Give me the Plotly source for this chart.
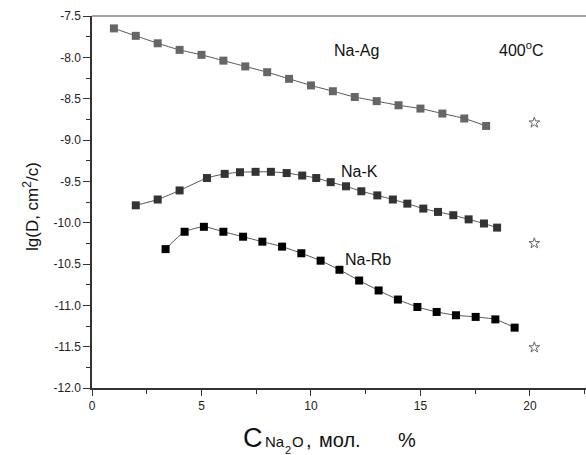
import plotly.graph_objects as go

# Na-Ag
ag_x = [1, 2, 3, 4, 5, 6, 7, 8, 9, 10, 11, 12, 13, 14, 15, 16, 17, 18]
ag_y = [-7.65, -7.74, -7.83, -7.91, -7.97, -8.04, -8.11, -8.18, -8.26, -8.34,
        -8.41, -8.48, -8.53, -8.58, -8.62, -8.68, -8.74, -8.83]
# Na-K
k_x = [2.0, 3.0, 4.0, 5.25, 6.06, 6.76, 7.47, 8.17, 8.89, 9.6, 10.24, 10.9,
       11.6, 12.3, 13.03, 13.74, 14.4, 15.13, 15.8, 16.5, 17.2, 17.9, 18.5]
k_y = [-9.79, -9.72, -9.61, -9.46, -9.41, -9.39, -9.385, -9.385, -9.40, -9.43,
       -9.46, -9.51, -9.56, -9.62, -9.67, -9.72, -9.77, -9.83, -9.87, -9.91,
       -9.96, -10.01, -10.06]
# Na-Rb
rb_x = [3.36, 4.23, 5.11, 6.0, 6.9, 7.78, 8.68, 9.56, 10.44, 11.3, 12.2, 13.09,
        13.97, 14.86, 15.74, 16.62, 17.52, 18.42, 19.3]
rb_y = [-10.32, -10.11, -10.05, -10.11, -10.17, -10.23, -10.29, -10.37, -10.46,
        -10.57, -10.70, -10.82, -10.93, -11.02, -11.08, -11.12, -11.14, -11.17, -11.27]
# stars (calculated values)
star_x = [20.2, 20.2, 20.2]
star_y = [-8.79, -10.25, -11.51]

labels = ["Na-Ag", "Na-K", "Na-Rb"]
label_x = [12.1, 12.2, 12.6]
label_y = [-7.92, -9.38, -10.45]

FONT = "Liberation Sans, Arial"

fig = go.Figure()
for xs, ys, col in [(ag_x, ag_y, "#666666"), (k_x, k_y, "#333333"), (rb_x, rb_y, "#000000")]:
    fig.add_trace(go.Scatter(
        x=xs, y=ys, mode="lines+markers",
        line=dict(color="#555555", width=1, shape="spline", smoothing=0.6),
        marker=dict(symbol="square", size=8, color=col, line=dict(width=0)),
        showlegend=False))
fig.add_trace(go.Scatter(
    x=star_x, y=star_y, mode="markers",
    marker=dict(symbol="star-open", size=8, color="#666666", line=dict(width=1)),
    showlegend=False))

for t, x, y in zip(labels, label_x, label_y):
    fig.add_annotation(x=x, y=y, text=t, showarrow=False,
                       font=dict(size=16, color="#111111", family=FONT))
fig.add_annotation(x=19.6, y=-7.9, text="400<sup>o</sup>C", showarrow=False,
                   font=dict(size=16, color="#111111", family=FONT))

# y-axis title
fig.add_annotation(x=0, xref="paper", xshift=-61, xanchor="center",
                   y=0.5, yref="paper", yshift=-5, yanchor="middle", textangle=-90,
                   text="lg(D, cm<sup>2</sup>/c)", showarrow=False,
                   font=dict(size=17, color="#111111", family=FONT))

# x-axis title pieces: (text, size, left offset from plot left px, center offset below plot bottom px)
xt_parts = [("C", 27, 150, 49.5), ("Na", 15, 172, 53.7), ("2", 11, 192, 62),
            ("O", 15, 199, 53.7), (",", 20, 213, 52), ("мол.", 20, 226, 52),
            ("%", 20, 305, 52)]
for t, s, dx, dy in xt_parts:
    fig.add_annotation(x=0, xref="paper", xshift=dx, xanchor="left",
                       y=0, yref="paper", yshift=-dy, yanchor="middle",
                       text=t, showarrow=False, borderpad=0,
                       font=dict(size=s, color="#111111", family=FONT))

fig.update_layout(
    width=586, height=455,
    margin=dict(l=92, r=0, t=16, b=67),
    plot_bgcolor="white", paper_bgcolor="white",
    font=dict(family=FONT, color="#222222"),
    xaxis=dict(range=[0, 22.56], tickvals=[0, 5, 10, 15, 20], ticks="outside",
               ticklen=6, tickwidth=1.2, tickcolor="#333333",
               showline=True, linecolor="#333333", linewidth=1.5, mirror=False,
               showgrid=False, zeroline=False, tickfont=dict(size=12, color="#222222"),
               minor=dict(tickvals=[2.5, 7.5, 12.5, 17.5, 22.5], ticks="outside",
                          ticklen=4, tickcolor="#333333", showgrid=False)),
    yaxis=dict(range=[-12, -7.5], tickvals=[-12, -11.5, -11, -10.5, -10, -9.5, -9, -8.5, -8, -7.5],
               ticktext=["-12.0", "-11.5", "-11.0", "-10.5", "-10.0", "-9.5", "-9.0", "-8.5", "-8.0", "-7.5"],
               ticks="outside", ticklen=7, tickwidth=1.2, tickcolor="#333333",
               showline=True, linecolor="#333333", linewidth=1.5,
               showgrid=False, zeroline=False, tickfont=dict(size=12, color="#222222"),
               minor=dict(dtick=0.25, tick0=-12, ticks="outside", ticklen=4,
                          tickcolor="#333333", showgrid=False)),
)
fig.add_shape(type="line", xref="paper", yref="paper", x0=0, x1=1, y0=1, y1=1,
              line=dict(color="#888888", width=1.5))

fig.write_html("out.html", config={"displayModeBar": False},
               post_script="document.body.style.margin='0';")
